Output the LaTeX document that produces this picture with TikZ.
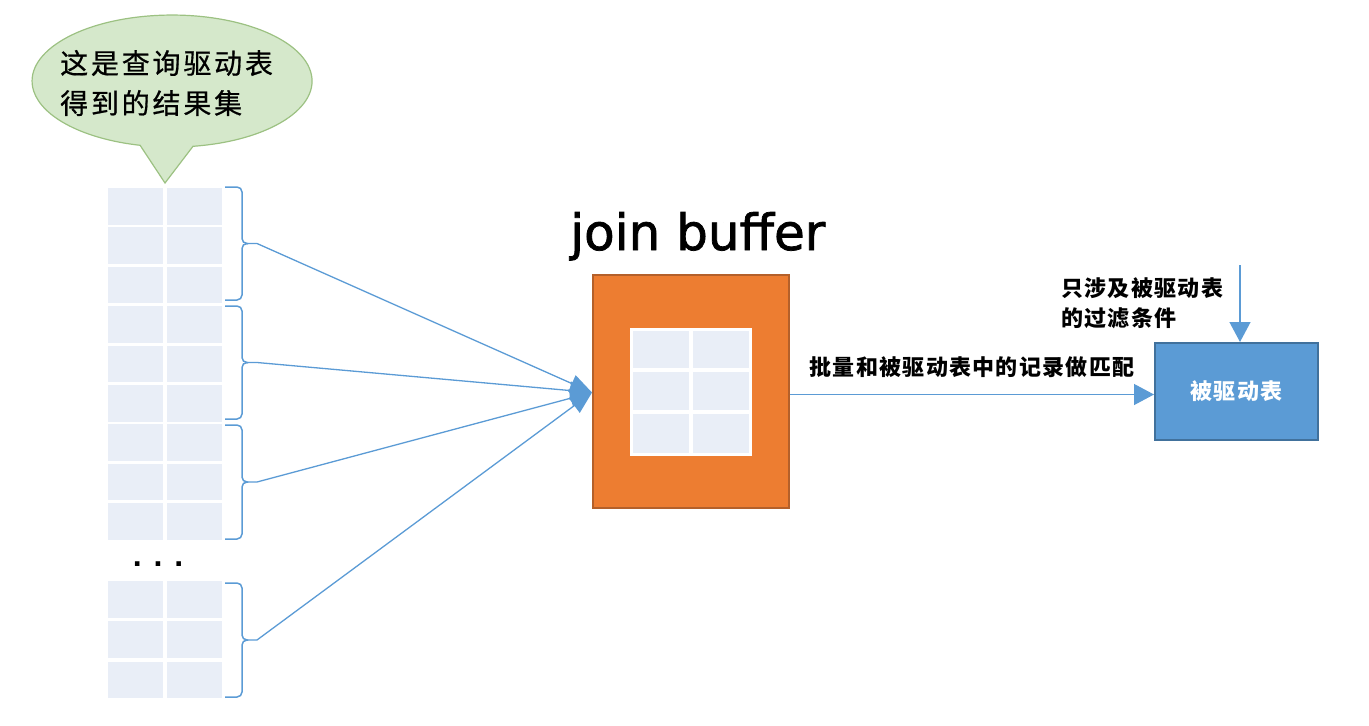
\documentclass[tikz,border=0pt]{standalone}
\usepackage{fontspec}
\setmainfont{DejaVu Sans}
\newfontfamily\cjk{Noto Sans CJK SC}
\newfontfamily\lib{Liberation Sans}
\usetikzlibrary{arrows.meta}
\definecolor{cellc}{HTML}{E9EEF7}
\definecolor{bluel}{HTML}{5B9BD5}
\definecolor{blueb}{HTML}{41719C}
\definecolor{orangef}{HTML}{ED7D31}
\definecolor{oranged}{HTML}{B4602A}
\definecolor{greenf}{HTML}{D5E8CB}
\definecolor{greend}{HTML}{9CC182}
\begin{document}
\begin{tikzpicture}[x=1pt,y=-1pt,
  conn/.style={draw=bluel, line width=1.3pt, -{Triangle[length=22pt,width=18pt]}},
  conn2/.style={draw=bluel, line width=1.3pt, -{Triangle[length=20pt,width=21pt]}},
  bracec/.style={draw=bluel, line width=1.5pt, rounded corners=5pt},
  lbl/.style={font=\cjk\bfseries\fontsize{22}{30}\selectfont\addfontfeature{LetterSpace=6}, inner sep=0pt},
]
\useasboundingbox (0,0) rectangle (1369,726);

% callout
\draw[fill=greenf, draw=greend, line width=1.2pt] (193,146.3)
  arc[start angle=81.4, end angle=-256.8, x radius=140, y radius=66] -- (165,183) -- cycle;
\node[anchor=west, align=left, inner sep=0pt,
  font=\cjk\fontsize{28}{40}\selectfont\addfontfeature{LetterSpace=10,FakeBold=0.6}] (callout) at (60,83)
  {这是查询驱动表\\得到的结果集};

% left table
\foreach \i in {0,...,8} {
  \pgfmathsetmacro\t{188+39.4*\i}
  \fill[cellc] (108,\t) rectangle (163,\t+36.5);
  \fill[cellc] (167,\t) rectangle (222,\t+36.5);
}
\foreach \i in {0,...,2} {
  \pgfmathsetmacro\t{581+40.3*\i}
  \fill[cellc] (108,\t) rectangle (163,\t+36.5);
  \fill[cellc] (167,\t) rectangle (222,\t+36.5);
}
\node[anchor=base, inner sep=0pt, font=\lib\bfseries\fontsize{32}{36}\selectfont] (dots) at (158,566) {. . .};

% braces
\foreach \a/\b/\n in {187/300/t1, 306/419/t2, 425/539/t3, 583/697/t4} {
  \pgfmathsetmacro\m{(\a+\b)/2}
  \draw[bracec] (225,\a) -- (242,\a) -- (242,\m) -- (248,\m);
  \draw[bracec] (248,\m) -- (242,\m) -- (242,\b) -- (225,\b);
  \coordinate (\n) at (248,\m);
}

% join buffer
\node[anchor=base west, inner sep=0pt, font=\fontsize{50}{60}\selectfont\addfontfeature{FakeBold=1.5}] (title) at (570,250) {join buffer};
\node[draw=oranged, fill=orangef, line width=2pt, minimum width=196pt, minimum height=233pt, inner sep=0pt] (jb) at (691,391.5) {};
\fill[white] (630,328) rectangle (752,456);
\foreach \x in {633,693} {
  \foreach \y/\h in {331/37, 372/38, 414/39} {
    \fill[cellc] (\x,\y) rectangle (\x+56,\y+\h);
  }
}

% fan connectors
\foreach \n in {t1,t2,t3,t4} {
  \draw[conn] (\n) -- ++(9,0) -- ([yshift=-1pt]jb.west);
}

% driven table
\node[draw=blueb, fill=bluel, line width=2pt, minimum width=163pt, minimum height=97pt, inner sep=0pt,
  text=white, font=\cjk\bfseries\fontsize{22}{26}\selectfont\addfontfeature{LetterSpace=5}] (bt) at (1236.5,391.5) {被驱动表};

\draw[conn2] ([yshift=-3pt]jb.east) -- ([yshift=-3pt]bt.west);
\node[lbl] (lab1) at (972,367) {批量和被驱动表中的记录做匹配};

\coordinate (dtop) at (1240,265);
\draw[conn2] (dtop) -- (dtop |- bt.north);
\node[lbl, anchor=west, align=left] (lab2) at (1061,303) {只涉及被驱动表\\的过滤条件};
\end{tikzpicture}
\end{document}
